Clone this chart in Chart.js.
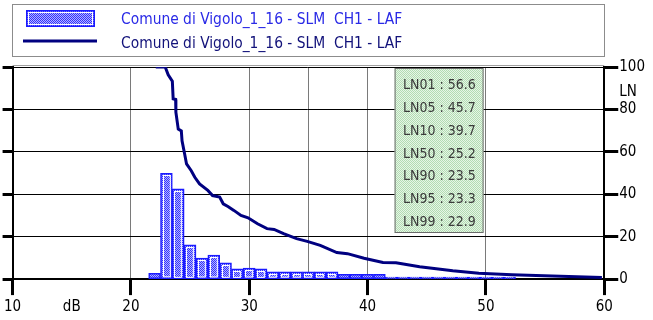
<!DOCTYPE html>
<html>
<head>
<meta charset="utf-8">
<script src="https://cdn.jsdelivr.net/npm/chart.js@4.4.1/dist/chart.umd.min.js"></script>
<style>
  html, body { margin: 0; padding: 0; background: #fff; }
  #wrap { width: 653px; height: 320px; }
</style>
</head>
<body>
<div id="wrap"><canvas id="lnChart" width="653" height="320"></canvas></div>
<script>
const seriesName = "Comune di Vigolo_1_16 - SLM  CH1 - LAF";

// histogram, 1 dB classes (value on the 0-100 scale)
const binLevels = [22, 23, 24, 25, 26, 27, 28, 29, 30, 31, 32, 33, 34, 35, 36, 37,
  38, 39, 40, 41, 42, 43, 44, 45, 46, 47, 48, 49, 50, 51, 52];
const binValues = [2.7, 49.9, 42.6, 16.2, 9.9, 11.3, 7.7, 4.9, 5.2, 4.9, 3.4, 3.4, 3.4, 3.4, 3.4, 3.4,
  2.3, 2.3, 2.3, 2.3, 0.9, 0.9, 0.9, 0.9, 0.9, 0.9, 0.9, 0.9, 0.9, 0.9, 0.9];

// cumulative curve (percent of time level is exceeded)
const curveLevels = [22.1, 22.9, 23.15, 23.5, 23.57, 23.78, 23.8, 24.0, 24.26, 24.32, 24.54, 24.7,
  25.1, 25.4, 25.8, 26.5, 26.9, 27.5, 27.8, 28.2, 28.7, 29.3, 29.9, 30.7, 31.5, 32.1, 32.9,
  34.0, 34.9, 36.0, 37.4, 38.3, 39.7, 41.3, 42.4, 44.4, 47.2, 49.4, 52.2, 55.6, 59.8];
const curvePercent = [100, 100, 96.3, 93.3, 85, 84.7, 78.7, 70.7, 69.9, 65.2, 59, 54.3,
  51.1, 48, 44.9, 41.8, 39.4, 38.7, 35.5, 34.2, 32.4, 30, 28.9, 26.1, 23.8, 23.4, 21.4,
  19.1, 17.8, 15.9, 12.5, 12, 9.8, 7.8, 7.7, 5.8, 3.9, 2.8, 2.1, 1.5, 0.8];

// statistics box
const statLabels = ["LN01", "LN05", "LN10", "LN50", "LN90", "LN95", "LN99"];
const statValues = [56.6, 45.7, 39.7, 25.2, 23.5, 23.3, 22.9];

const xGridLines = [20, 30, 35, 40, 50];

const fontFamily = "'DejaVu Sans Condensed', 'Liberation Sans', sans-serif";

function makePattern(c1, c2) {
  const pc = document.createElement("canvas");
  pc.width = 2;
  pc.height = 2;
  const p = pc.getContext("2d");
  p.fillStyle = c2;
  p.fillRect(0, 0, 2, 2);
  p.fillStyle = c1;
  p.fillRect(0, 0, 1, 1);
  p.fillRect(1, 1, 1, 1);
  return p.createPattern(pc, "repeat");
}

const barPattern = makePattern("#3232ff", "#b4b4ff");
const greenPattern = makePattern("#b2dcb2", "#e6f5e6");

const decorPlugin = {
  id: "decor",
  afterDatasetDraw(chart, args) {
    if (args.index !== 0) return;
    const ctx = chart.ctx;
    ctx.save();
    ctx.strokeStyle = "#ffffff";
    ctx.lineWidth = 1;
    args.meta.data.forEach((bar) => {
      const p = bar.getProps(["x", "y", "base", "width"], true);
      const h = p.base - p.y;
      if (h < 6) return;
      const l = Math.round(p.x - p.width / 2) + 2.5;
      ctx.strokeRect(l, Math.round(p.y) + 2.5, p.width - 5, h - 4);
    });
    ctx.restore();
  },
  afterDraw(chart) {
    const ctx = chart.ctx;
    const area = chart.chartArea;
    ctx.save();

    // thin frame line above plot
    ctx.strokeStyle = "#a0a0a0";
    ctx.lineWidth = 1;
    ctx.beginPath();
    ctx.moveTo(area.left, area.top - 1.5);
    ctx.lineTo(area.right, area.top - 1.5);
    ctx.stroke();

    // legend box
    ctx.strokeStyle = "#8c8c8c";
    ctx.strokeRect(12.5, 4.5, 592, 52);
    ctx.fillStyle = barPattern;
    ctx.fillRect(26, 10, 69, 17);
    ctx.strokeStyle = "#1a1aff";
    ctx.lineWidth = 1.5;
    ctx.strokeRect(26.75, 10.75, 67.5, 15.5);
    ctx.strokeStyle = "#ffffff";
    ctx.lineWidth = 1;
    ctx.strokeRect(28.5, 12.5, 64, 12);
    ctx.strokeStyle = "#000080";
    ctx.lineWidth = 3;
    ctx.beginPath();
    ctx.moveTo(23, 41);
    ctx.lineTo(97, 41);
    ctx.stroke();
    ctx.font = "15.4px " + fontFamily;
    ctx.textBaseline = "middle";
    ctx.textAlign = "left";
    ctx.fillStyle = "#2a2ae6";
    ctx.fillText(seriesName, 121, 20);
    ctx.fillStyle = "#12127a";
    ctx.fillText(seriesName, 121, 43.5);

    // LN axis label
    ctx.font = "15px " + fontFamily;
    ctx.fillStyle = "#000";
    ctx.textAlign = "center";
    ctx.fillText("LN", 628, 92);

    // statistics box
    const bx = area.left + 382, by = area.top + 1, bw = 89, bh = 165;
    ctx.fillStyle = greenPattern;
    ctx.fillRect(bx, by, bw, bh);
    ctx.strokeStyle = "#6a6a6a";
    ctx.lineWidth = 1;
    ctx.strokeRect(bx + 0.5, by + 0.5, bw - 1, bh - 1);
    ctx.font = "14px " + fontFamily;
    ctx.fillStyle = "#3a3a3a";
    ctx.textAlign = "left";
    for (let i = 0; i < statLabels.length; i++) {
      ctx.fillText(statLabels[i] + " : " + statValues[i].toFixed(1), bx + 8.5, by + 17.5 + i * 22.8);
    }
    ctx.restore();
  },
};

Chart.defaults.font.family = fontFamily;
Chart.defaults.font.size = 15;
Chart.defaults.color = "#000";

new Chart(document.getElementById("lnChart"), {
  type: "bar",
  data: {
    datasets: [
      {
        type: "bar",
        label: seriesName,
        data: binLevels.map((lv, i) => ({ x: lv, y: binValues[i] })),
        backgroundColor: barPattern,
        borderColor: "#1a1aff",
        borderWidth: 1.5,
        borderSkipped: false,
        barPercentage: 1,
        categoryPercentage: 1,
        yAxisID: "y",
        order: 1,
      },
      {
        type: "line",
        label: seriesName,
        data: curveLevels.map((lv, i) => ({ x: lv, y: curvePercent[i] })),
        borderColor: "#000080",
        borderWidth: 3,
        pointRadius: 0,
        tension: 0,
        fill: false,
        yAxisID: "y",
        order: 0,
      },
    ],
  },
  options: {
    responsive: false,
    animation: false,
    devicePixelRatio: 1,
    events: [],
    layout: { padding: { top: 67, right: 7, bottom: 1, left: 0 } },
    plugins: { legend: { display: false }, tooltip: { enabled: false } },
    scales: {
      x: {
        type: "linear",
        min: 10,
        max: 60,
        offset: false,
        grid: {
          offset: false,
          color: (c) => (xGridLines.includes(c.tick.value) ? "#7a7a7a" : "rgba(0,0,0,0)"),
          lineWidth: 1,
          tickLength: 16,
          tickWidth: (c) => (c.tick.value % 10 === 0 ? 3 : 0),
          tickColor: "#000",
        },
        border: { color: "#000", width: 2 },
        ticks: {
          stepSize: 5,
          autoSkip: false,
          maxRotation: 0,
          padding: 4,
          font: { lineHeight: 1.06 },
          callback: (v) => (v % 10 === 0 ? v : v === 15 ? "dB" : ""),
        },
      },
      y: {
        position: "right",
        min: 0,
        max: 100,
        grid: { color: "#000", lineWidth: 1, tickLength: 14, tickWidth: 3, tickColor: "#000" },
        border: { color: "#000", width: 2 },
        ticks: { stepSize: 20, padding: 1 },
      },
      yl: {
        position: "left",
        min: 0,
        max: 100,
        grid: { drawOnChartArea: false, tickLength: 10, tickWidth: 3, tickColor: "#000" },
        border: { color: "#000", width: 2 },
        ticks: { stepSize: 20, padding: 0, callback: () => "" },
      },
    },
  },
  plugins: [decorPlugin],
});
</script>
</body>
</html>
